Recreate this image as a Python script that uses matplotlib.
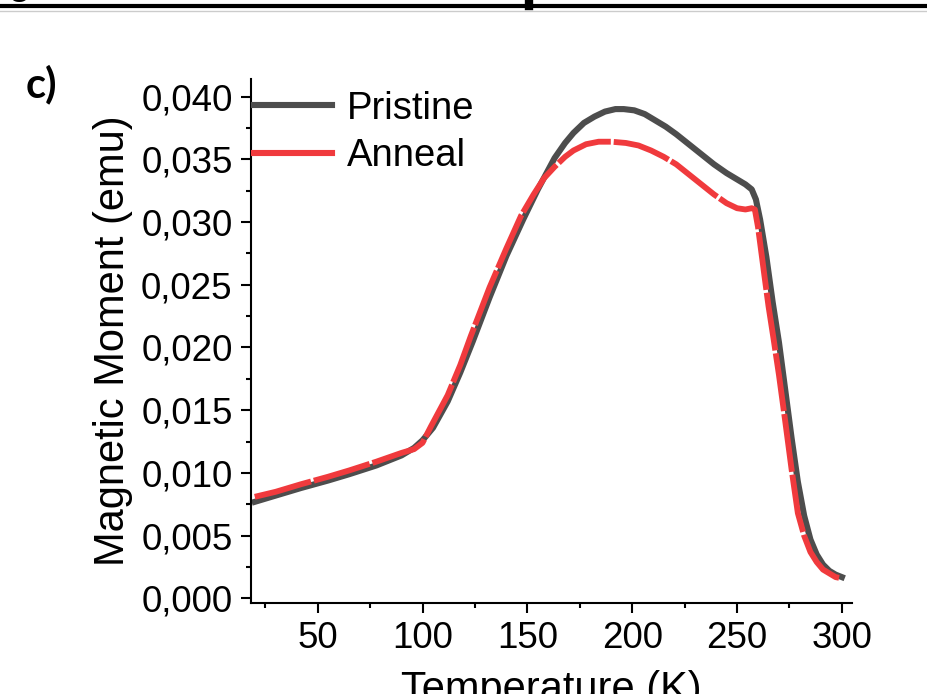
import numpy as np
import matplotlib
matplotlib.use("Agg")
import matplotlib.pyplot as plt
from matplotlib.lines import Line2D
from matplotlib.ticker import MultipleLocator, FuncFormatter

plt.rcParams['font.family'] = ['Liberation Sans', 'DejaVu Sans']

# Pristine (grey curve)
t_pristine = [20, 30, 42, 55, 65, 78, 90, 96, 100, 105, 112, 118, 124, 132, 140,
              148, 155, 163, 168, 172, 177, 182, 187, 192, 196, 201, 206, 211,
              216, 221, 227, 233, 239, 245, 250, 254, 257, 259, 261, 264, 267,
              270, 273, 276, 279, 282, 285, 288, 291, 294, 297, 300]
m_pristine = [0.0077, 0.0082, 0.0088, 0.0094, 0.0099, 0.0106, 0.0114, 0.0120,
              0.0126, 0.0136, 0.0157, 0.0180, 0.0205, 0.0240, 0.0273, 0.0302,
              0.0326, 0.0351, 0.0363, 0.0371, 0.0379, 0.0384, 0.0388, 0.0390,
              0.0390, 0.0389, 0.0386, 0.0381, 0.0376, 0.0370, 0.0362, 0.0354,
              0.0346, 0.0339, 0.0334, 0.0330, 0.0326, 0.0318, 0.0302, 0.0272,
              0.0236, 0.0204, 0.0166, 0.0128, 0.0093, 0.0066, 0.0047, 0.0035,
              0.0027, 0.0022, 0.0019, 0.0017]

# Anneal (red curve)
t_anneal = [20, 30, 42, 55, 65, 78, 90, 96, 100, 104, 112, 118, 123, 132, 140,
            147, 153, 158, 163, 168, 172, 178, 184, 190, 197, 203, 209, 215,
            221, 227, 233, 239, 245, 250, 254, 257, 258.5, 260, 263, 265, 267.5,
            270, 273, 276, 279, 282, 285, 288, 291, 294, 297, 300]
m_anneal = [0.0081, 0.0085, 0.0091, 0.0097, 0.0102, 0.0109, 0.0116, 0.0119,
            0.0124, 0.0137, 0.0162, 0.0186, 0.0209, 0.0248, 0.0279, 0.0305,
            0.0322, 0.0335, 0.0344, 0.0352, 0.0357, 0.0362, 0.0364, 0.0364,
            0.0363, 0.0361, 0.0357, 0.0352, 0.0346, 0.0338, 0.0330, 0.0322,
            0.0315, 0.0311, 0.0310, 0.0311, 0.0310, 0.0296, 0.0258, 0.0233,
            0.0206, 0.0178, 0.0141, 0.0103, 0.0068, 0.0050, 0.0037, 0.0029,
            0.0023, 0.0020, 0.0017, 0.0016]

labels = ["Pristine", "Anneal"]
grey = "#4d4d4d"
red = "#f03a3d"

fig = plt.figure(figsize=(9.28, 6.94), dpi=100)
ax = fig.add_axes([0.270, 0.131, 0.6485, 0.7552])

ax.plot(t_pristine, m_pristine, color=grey, lw=4.4, solid_joinstyle='round')
ax.plot(t_anneal, m_anneal, color=red, lw=4.2, dashes=(10, 0.5),
        dash_joinstyle='round')

ax.set_xlim(18, 305)
ax.set_ylim(-0.00037, 0.0414)

ax.xaxis.set_major_locator(MultipleLocator(50))
ax.xaxis.set_minor_locator(MultipleLocator(25))
ax.yaxis.set_major_locator(MultipleLocator(0.005))
ax.yaxis.set_minor_locator(MultipleLocator(0.0025))
ax.yaxis.set_major_formatter(FuncFormatter(lambda v, p: f"{v:.3f}".replace('.', ',')))

ax.tick_params(which='major', direction='out', length=7, width=1.5, labelsize=26.5, pad=6)
ax.tick_params(which='minor', direction='out', length=3.5, width=1.5)
for s in ['top', 'right']:
    ax.spines[s].set_visible(False)
for s in ['left', 'bottom']:
    ax.spines[s].set_linewidth(1.5)

ax.set_ylabel("Magnetic Moment (emu)", fontsize=30, labelpad=6)
ax.set_xlabel("Temperature (K)", fontsize=30, labelpad=10)

handles = [Line2D([], [], color=grey, lw=4.4), Line2D([], [], color=red, lw=4.4)]
ax.legend(handles, labels, loc='upper left', bbox_to_anchor=(0.005, 0.978),
          frameon=False, fontsize=27.5, handlelength=2.05, handletextpad=0.4,
          labelspacing=0.3, borderpad=0.0, borderaxespad=0.0)

# panel label and bits of the neighbouring panel cut off at the top
fig.text(0.028, 0.86, "c)", fontsize=30, fontweight='bold', family=['Lato', 'DejaVu Sans'])
fig.text(0.011, 1.004, "g", fontsize=24, fontweight='bold', family=['Lato', 'DejaVu Sans'],
         va='baseline')
fig.add_artist(Line2D([0, 1], [1 - 6 / 694, 1 - 6 / 694], color='black', lw=3))
fig.add_artist(Line2D([0, 1], [1 - 11 / 694, 1 - 11 / 694], color='#cccccc', lw=1))
fig.add_artist(Line2D([529 / 928, 529 / 928], [1 - 6 / 694, 1], color='black', lw=6))

fig.savefig("out.png", dpi=100)
